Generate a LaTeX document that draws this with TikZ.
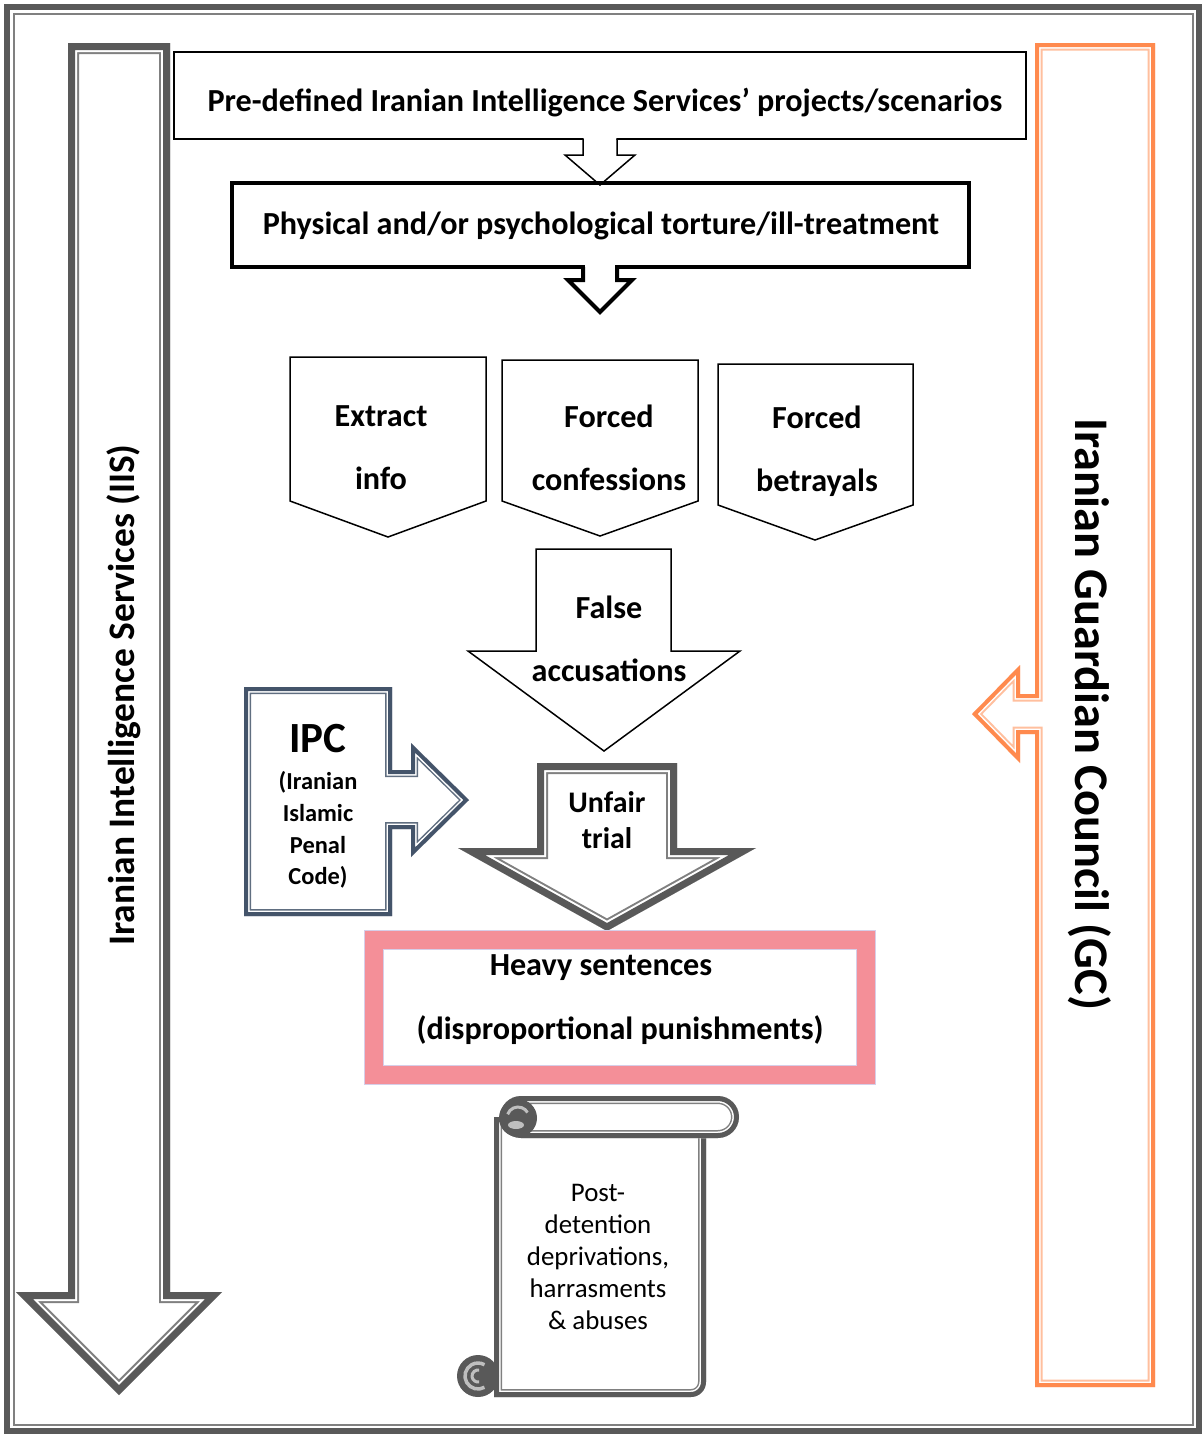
\documentclass[tikz,border=0pt]{standalone}
\usepackage{fontspec}
\setmainfont{Carlito}
\usepackage{tikz}
\usetikzlibrary{calc}
\definecolor{framegray}{RGB}{89,89,89}
\definecolor{linegray}{RGB}{128,128,128}
\definecolor{gcorange}{RGB}{255,138,78}
\definecolor{ipcblue}{RGB}{68,84,106}
\definecolor{sentpink}{RGB}{244,143,152}
\definecolor{rollgray}{RGB}{191,191,191}
\definecolor{edgelilac}{RGB}{214,206,232}
\newcommand{\px}{0.02cm}
% thick line outside, white gap, thin line inside: #1 thick colour, #2 thin colour,
% #3 thick width, #4 gap, #5 thin width (px), #6 closed path
\newcommand{\thickthin}[6]{%
\begin{scope}
\clip #6;
\fill[white] #6;
\draw[#2, line width=2*(#3+#4+#5)*\px] #6;
\draw[white, line width=2*(#3+#4)*\px] #6;
\draw[#1, line width=2*#3*\px] #6;
\end{scope}}

\begin{document}
\begin{tikzpicture}[x=\px, y=-\px, line join=miter,
  lbl/.style={font=\bfseries\fontsize{18.3}{22}\selectfont, align=center, inner sep=0pt},
  widelbl/.style={lbl, font=\bfseries\fontsize{18.3}{36}\selectfont},
  thinline/.style={draw=black, line width=1.5*\px, fill=white},
  thickline/.style={draw=black, line width=4*\px}]
\useasboundingbox (0,0) rectangle (1202,1434);
%page frame
\thickthin{framegray}{linegray}{6}{2.5}{2}{(4,4) rectangle (1202,1434)}
%IIS arrow
\thickthin{framegray}{linegray}{7}{2}{2}{(68,43) -- (170,43) -- (170,1292) -- (222,1292) -- (119,1395) -- (16,1292) -- (68,1292) -- cycle}
\node[font=\bfseries\fontsize{21.3}{25}\selectfont, rotate=90, inner sep=0pt] (iis) at (124,695) {Iranian Intelligence Services (IIS)};
%GC frame with its arrow
\thickthin{gcorange}{gcorange!55}{4}{1.5}{2}{(1035,43) -- (1155,43) -- (1155,1387) -- (1035,1387) -- (1035,734) -- (1020,734) -- (1020,763) -- (972,714) -- (1020,665) -- (1020,694) -- (1035,694) -- cycle}
\node[font=\bfseries\fontsize{27.5}{32}\selectfont, rotate=-90, inner sep=0pt] (gc) at (1090,714) {Iranian Guardian Council (GC)};
%scenarios and torture
\draw[thinline] (174,52) rectangle (1026,139);
\node[lbl] (scen) at (605,103) {Pre-defined Iranian Intelligence Services’ projects/scenarios};
\fill[white] (583.7,137.5) -- (583.7,155) -- (565,155) -- (600,185) -- (635,155) -- (616.3,155) -- (616.3,137.5) -- cycle;
\draw[black, line width=1.5*\px] (583,139) -- (583,155) -- (565,155) -- (600,185) -- (635,155) -- (617,155) -- (617,139);
\draw[thickline] (232,183) rectangle (969,267);
\node[lbl] (tort) at (601,226) {Physical and/or psychological torture/ill-treatment};
\fill[white] (585,264) -- (585,280) -- (615,280) -- (615,264) -- cycle;
\draw[thickline] (583,267) -- (583,280) -- (568,280) -- (600,312) -- (632,280) -- (617,280) -- (617,267);
%three outcomes
\draw[thinline] (290,357) -- (486,357) -- (486,501) -- (388,537) -- (290,501) -- cycle;
\draw[thinline] (502,360) -- (698,360) -- (698,501) -- (600,536) -- (502,501) -- cycle;
\draw[thinline] (718,364) -- (913,364) -- (913,505) -- (815,540) -- (718,505) -- cycle;
\node[widelbl] (extr) at (381,448) {Extract\\info};
\node[widelbl] (conf) at (609,448) {Forced\\confessions};
\node[widelbl] (betr) at (817,451) {Forced\\betrayals};
%false accusations
\draw[thinline] (536,549) -- (671,549) -- (671,651) -- (740,651) -- (604,751) -- (468,651) -- (536,651) -- cycle;
\node[widelbl] (false) at (609,639) {False\\accusations};
%IPC
\thickthin{ipcblue}{ipcblue!85}{4}{1.5}{1.5}{(244,687) -- (392,687) -- (392,770) -- (411,770) -- (411,743) -- (469,800) -- (411,857) -- (411,829) -- (392,829) -- (392,916) -- (244,916) -- cycle}
\node[font=\bfseries\fontsize{24.5}{28}\selectfont, inner sep=0pt] (ipc) at (318,739) {IPC};
\node[font=\bfseries\fontsize{13.9}{18.1}\selectfont, align=center, inner sep=0pt] (ipcname) at (318,830) {(Iranian\\Islamic\\Penal\\Code)};
%unfair trial
\thickthin{framegray}{linegray}{7}{2}{2}{(537,763) -- (677,763) -- (677,848) -- (756,848) -- (607,931) -- (458,848) -- (537,848) -- cycle}
\node[lbl, font=\bfseries\fontsize{17}{20.4}\selectfont] (trial) at (607,820) {Unfair\\trial};
%heavy sentences
\draw[sentpink, line width=19*\px] (373.5,939.5) rectangle (865.5,1074.5);
\draw[edgelilac, line width=1*\px] (364,930) rectangle (875,1084);
\draw[edgelilac, line width=1*\px] (383,949) rectangle (856,1065);
\node[lbl] (heavy) at (601,968) {Heavy sentences};
\node[lbl] (punish) at (620,1030) {(disproportional punishments)};
%post-detention scroll
\thickthin{framegray}{linegray}{5}{1.5}{1.5}{(494,1117) -- (706,1117) -- (706,1382) arc(0:90:15) -- (494,1397) -- cycle}
\thickthin{framegray}{linegray}{5}{1.5}{1.5}{(521,1096) -- (718,1096) arc(-90:90:21) -- (521,1138) arc(90:270:21) -- cycle}
\fill[framegray] (518,1118) circle (19);
\draw[rollgray, line width=3*\px] (518,1118) ++(200:11) arc(200:330:11);
\fill[rollgray] (516,1125) ellipse (8 and 4);
\fill[framegray] (478,1376) circle (21);
\draw[rollgray, line width=3.5*\px] (478,1376) ++(60:13) arc(60:300:13);
\draw[rollgray, line width=3*\px] (478,1376) ++(80:6) arc(80:280:6);
\node[font=\fontsize{15.3}{18.1}\selectfont, align=center, inner sep=0pt] (post) at (598,1257) {Post-\\detention\\deprivations,\\harrasments\\\& abuses};
\end{tikzpicture}
\end{document}
